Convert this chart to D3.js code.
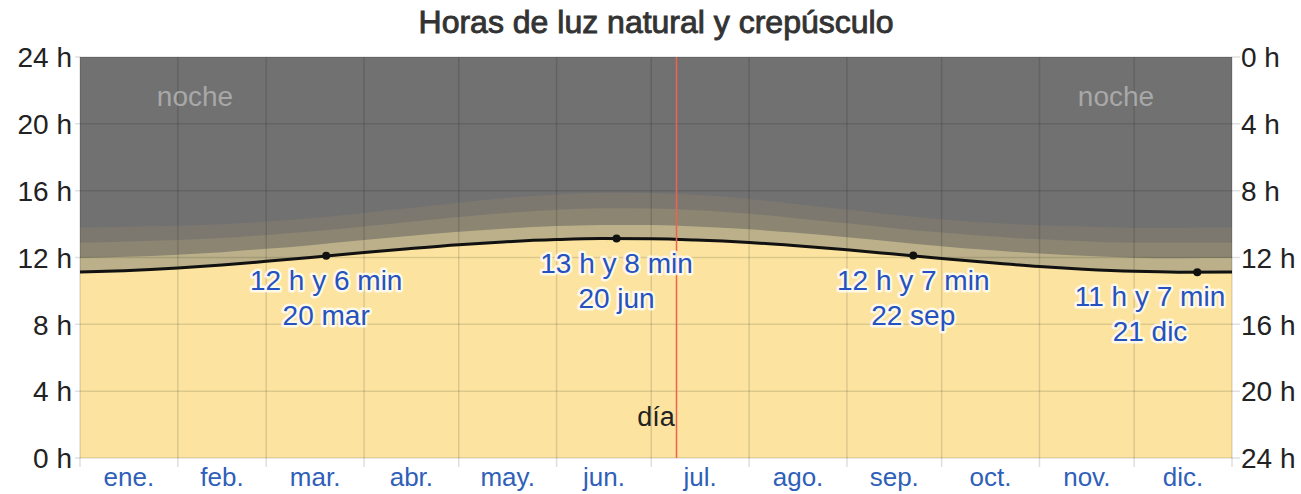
<!DOCTYPE html>
<html>
<head>
<meta charset="utf-8">
<script src="https://cdn.jsdelivr.net/npm/d3@7"></script>
<style>
  body { margin: 0; background: #fff; }
  text { font-family: "Liberation Sans", Arial, sans-serif; }
</style>
</head>
<body>
<div id="chart"></div>
<script>
// sample dates (2023) and hours
var sampleDates = ["2023-01-01","2023-01-15","2023-02-01","2023-02-15","2023-03-01","2023-03-15",
  "2023-04-01","2023-04-15","2023-05-01","2023-05-15","2023-06-01","2023-06-15","2023-07-01",
  "2023-07-15","2023-08-01","2023-08-15","2023-09-01","2023-09-15","2023-10-01","2023-10-15",
  "2023-11-01","2023-11-15","2023-12-01","2023-12-15","2024-01-01"];
var daylight = [11.13,11.21,11.37,11.55,11.77,12.00,12.30,12.53,12.77,12.93,13.07,13.13,13.12,
  13.05,12.90,12.72,12.46,12.22,11.94,11.71,11.46,11.30,11.17,11.12,11.13];
var civilTw = [0.84,0.83,0.80,0.77,0.75,0.74,0.74,0.75,0.77,0.79,0.81,0.82,0.82,
  0.81,0.79,0.77,0.75,0.74,0.74,0.75,0.78,0.80,0.82,0.84,0.84];
var nauticalTw = [0.92,0.91,0.87,0.84,0.82,0.81,0.82,0.84,0.88,0.93,0.98,1.00,1.00,
  0.98,0.93,0.88,0.84,0.81,0.81,0.82,0.85,0.88,0.90,0.92,0.92];
var astroTw = [0.90,0.89,0.86,0.83,0.81,0.80,0.81,0.83,0.86,0.89,0.91,0.92,0.92,
  0.91,0.88,0.85,0.82,0.80,0.80,0.81,0.84,0.87,0.89,0.90,0.90];

var months = ["ene.","feb.","mar.","abr.","may.","jun.","jul.","ago.","sep.","oct.","nov.","dic."];
var hourTicks = [0,4,8,12,16,20,24];

var markers = [
  {date: "2023-03-20", hours: 12.1, l1: "12 h y 6 min", l2: "20 mar"},
  {date: "2023-06-20", hours: 13.133, l1: "13 h y 8 min", l2: "20 jun"},
  {date: "2023-09-22", hours: 12.117, l1: "12 h y 7 min", l2: "22 sep"},
  {date: "2023-12-21", hours: 11.117, l1: "11 h y 7 min", l2: "21 dic"}
];
var today = "2023-07-09";

var W = 1301, H = 494;
var margin = {top: 57, right: 69, bottom: 36, left: 80};
var width = W - margin.left - margin.right;
var height = H - margin.top - margin.bottom;

var parse = d3.utcParse("%Y-%m-%d");
var data = sampleDates.map(function(d, i) {
  var c = daylight[i] + civilTw[i];
  var n = c + nauticalTw[i];
  return {date: parse(d), day: daylight[i], civil: c, nautical: n, astro: n + astroTw[i]};
});

var svg = d3.select("#chart").append("svg")
  .attr("width", W).attr("height", H);

svg.append("text")
  .attr("x", 656).attr("y", 33)
  .attr("text-anchor", "middle")
  .attr("font-size", 32)
  .attr("fill", "#333").attr("stroke", "#333").attr("stroke-width", 0.9)
  .text("Horas de luz natural y crepúsculo");

var g = svg.append("g")
  .attr("transform", "translate(" + margin.left + "," + margin.top + ")");

var x = d3.scaleUtc()
  .domain([parse("2023-01-01"), parse("2024-01-01")])
  .range([0, width]);
var y = d3.scaleLinear().domain([0, 24]).range([height, 0]);
var yR = d3.scaleLinear().domain([24, 0]).range([height, 0]);

// night
g.append("rect").attr("width", width).attr("height", height).attr("fill", "#717171");

function band(key) {
  return d3.area()
    .x(function(d) { return x(d.date); })
    .y0(height)
    .y1(function(d) { return y(d[key]); })
    .curve(d3.curveMonotoneX);
}
var layers = [["astro", "#7c7870"], ["nautical", "#8b8571"], ["civil", "#bbb089"], ["day", "#fce4a0"]];
layers.forEach(function(l) {
  g.append("path").datum(data).attr("d", band(l[0])).attr("fill", l[1]);
});

// grid
var monthStarts = d3.utcMonth.range(parse("2023-01-01"), parse("2024-01-02"));
g.selectAll(".vgrid").data(monthStarts).enter().append("line")
  .attr("x1", function(d) { return x(d); }).attr("x2", function(d) { return x(d); })
  .attr("y1", 0).attr("y2", height + 9)
  .attr("stroke", "rgba(0,0,0,0.13)").attr("stroke-width", 1.5);
g.selectAll(".hgrid").data(hourTicks).enter().append("line")
  .attr("x1", -5).attr("x2", width + 8)
  .attr("y1", function(d) { return y(d); }).attr("y2", function(d) { return y(d); })
  .attr("stroke", "rgba(0,0,0,0.12)").attr("stroke-width", 1.5);

// daylight line
g.append("path").datum(data)
  .attr("d", d3.line().x(function(d) { return x(d.date); }).y(function(d) { return y(d.day); }).curve(d3.curveMonotoneX))
  .attr("fill", "none").attr("stroke", "#111").attr("stroke-width", 3);

// today
g.append("line")
  .attr("x1", x(parse(today))).attr("x2", x(parse(today)))
  .attr("y1", 0).attr("y2", height)
  .attr("stroke", "#f0624d").attr("stroke-width", 1.5);

// labels
g.append("text").attr("x", 115).attr("y", 49).attr("text-anchor", "middle")
  .attr("font-size", 28).attr("fill", "#a8a8a8").text("noche");
g.append("text").attr("x", 1036).attr("y", 49).attr("text-anchor", "middle")
  .attr("font-size", 28).attr("fill", "#a8a8a8").text("noche");
g.append("text").attr("x", 576).attr("y", 369).attr("text-anchor", "middle")
  .attr("font-size", 27).attr("fill", "#222").text("día");

markers.forEach(function(m) {
  var px = x(parse(m.date)), py = y(m.hours);
  g.append("circle").attr("cx", px).attr("cy", py).attr("r", 4).attr("fill", "#111");
  var tx = Math.min(px, width - 82);
  [m.l1, m.l2].forEach(function(t, i) {
    g.append("text").attr("x", tx).attr("y", py + 34 + i * 35)
      .attr("text-anchor", "middle").attr("font-size", 28)
      .attr("fill", "#2452c0")
      .attr("stroke", "rgba(255,255,255,0.75)").attr("stroke-width", 5)
      .attr("paint-order", "stroke").attr("stroke-linejoin", "round")
      .text(t);
  });
});

// axes
var axL = g.append("g").call(d3.axisLeft(y).tickValues(hourTicks).tickSize(0).tickPadding(8)
  .tickFormat(function(d) { return d + " h"; }));
var axR = g.append("g").attr("transform", "translate(" + width + ",0)")
  .call(d3.axisRight(yR).tickValues(hourTicks).tickSize(0).tickPadding(9)
  .tickFormat(function(d) { return d + " h"; }));
[axL, axR].forEach(function(a) {
  a.select(".domain").remove();
  a.selectAll("text").attr("font-size", 28).attr("fill", "#222")
    .attr("font-family", "'Liberation Sans', Arial, sans-serif").attr("dy", "0.35em");
});

var monthMid = monthStarts.slice(0, 12).map(function(d, i) {
  return {name: months[i], pos: (x(d) + x(monthStarts[i + 1])) / 2};
});
g.selectAll(".mlab").data(monthMid).enter().append("text")
  .attr("x", function(d) { return d.pos; }).attr("y", height + 28)
  .attr("text-anchor", "middle").attr("font-size", 26).attr("fill", "#2f5fb8")
  .text(function(d) { return d.name; });
</script>
</body>
</html>
